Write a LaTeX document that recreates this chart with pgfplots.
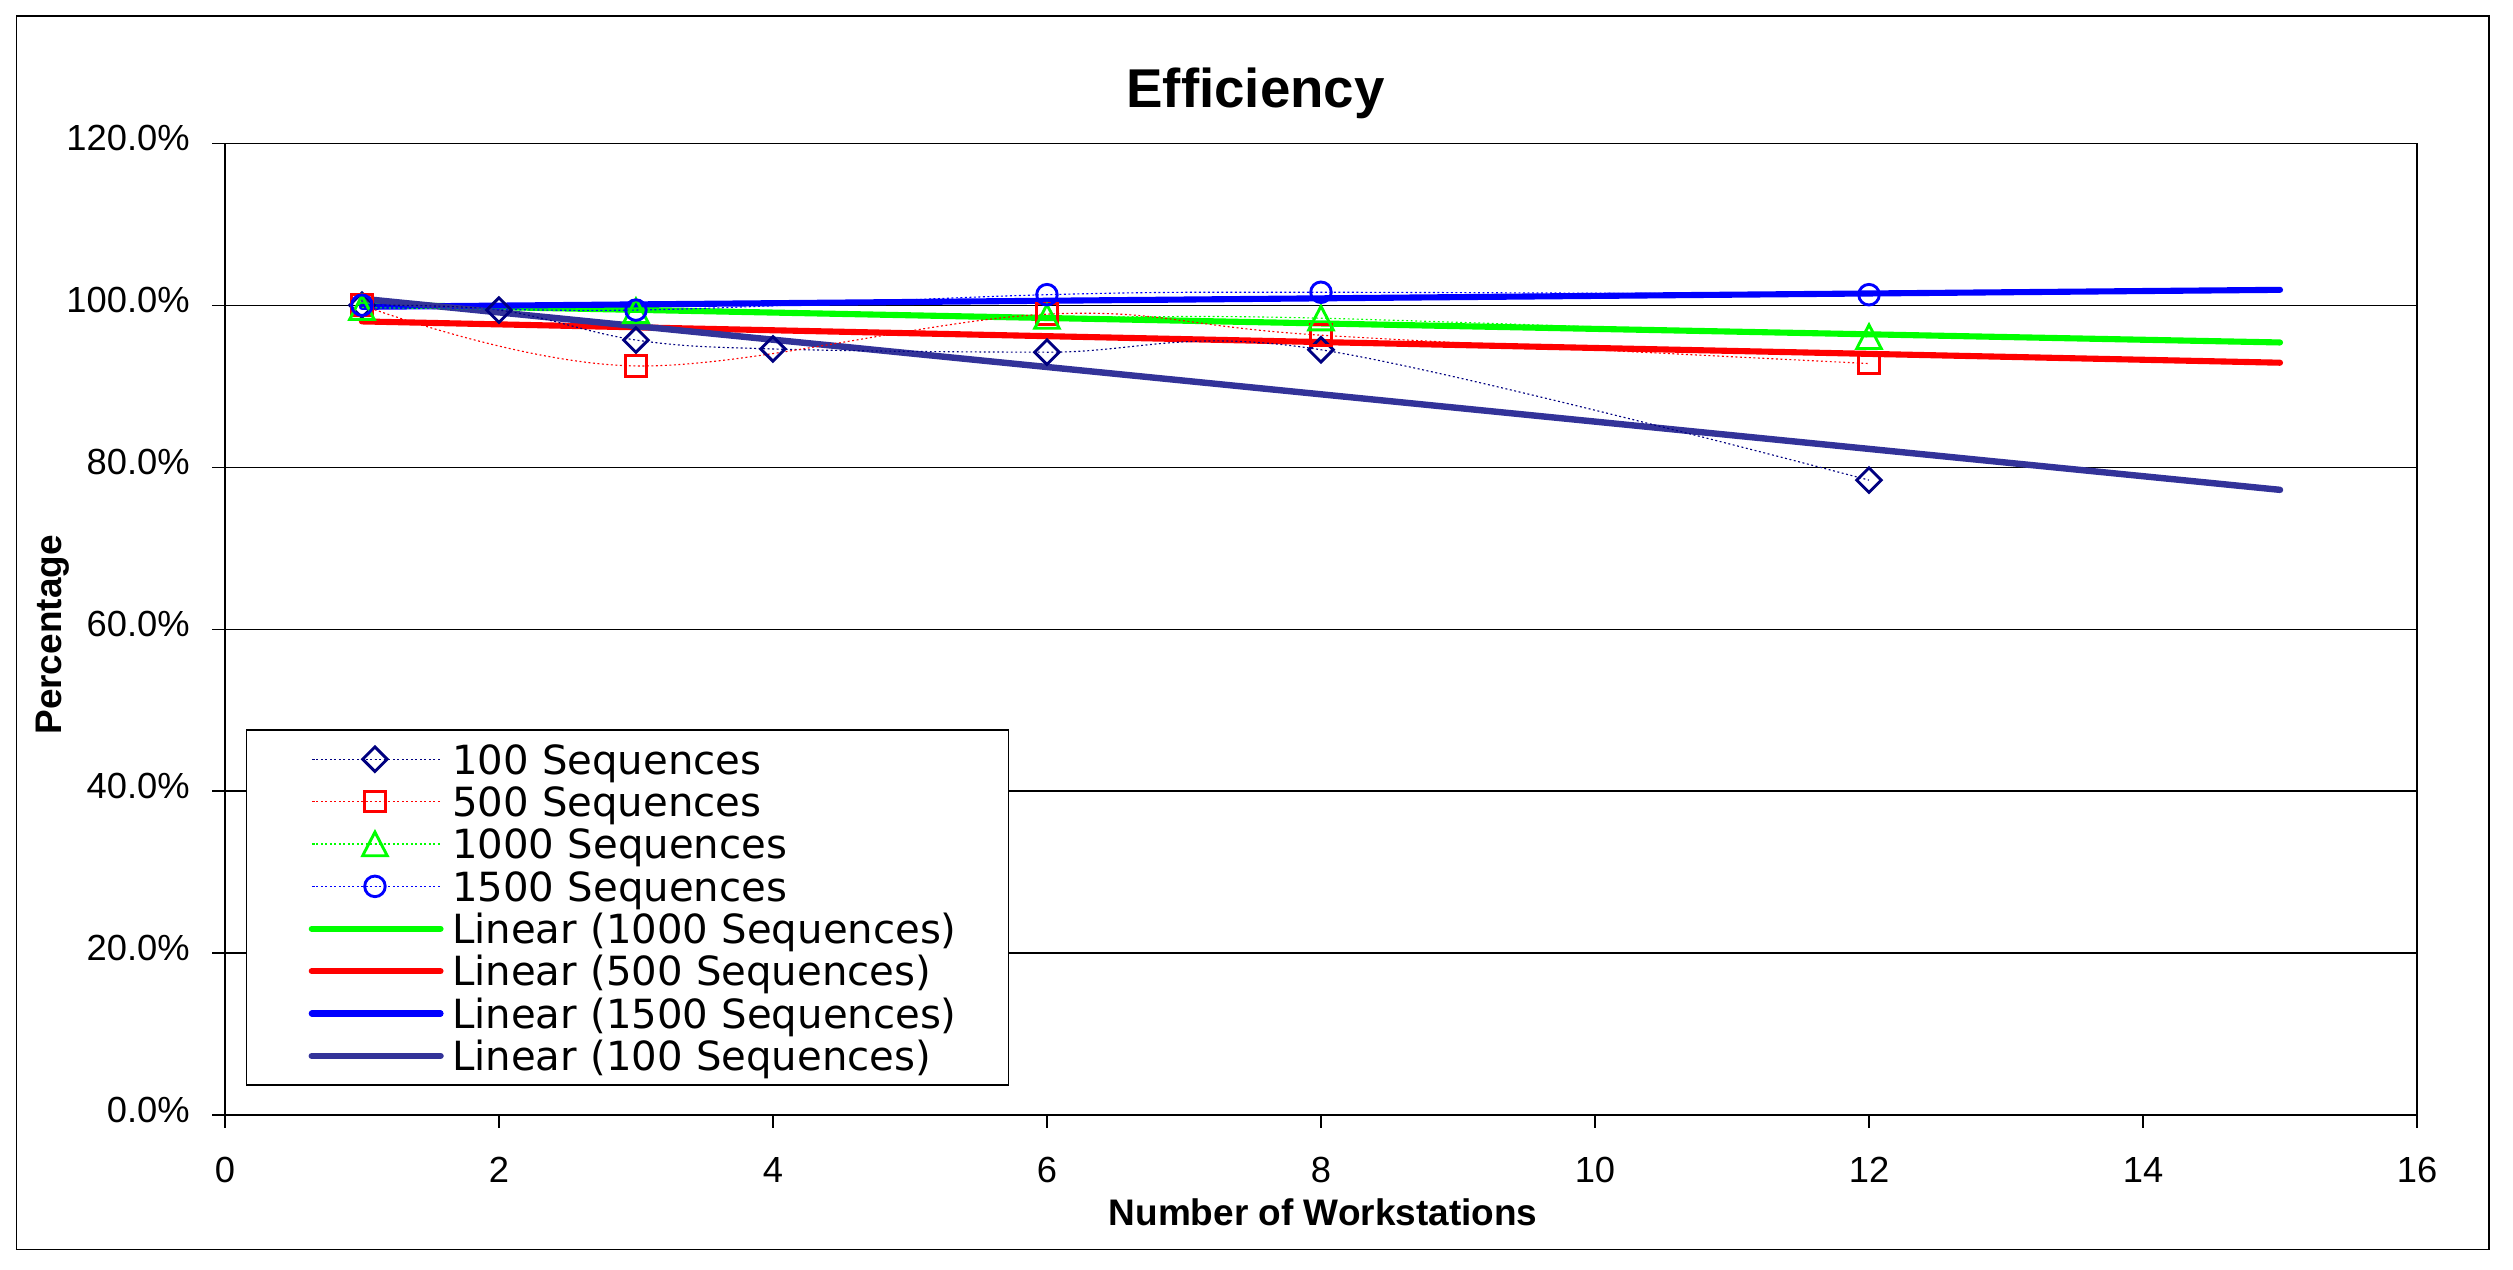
\documentclass[border=0pt]{standalone}
\usepackage{fontspec}
\setmainfont{Liberation Sans}
\newfontfamily\legendfont{DejaVu Sans}
\usepackage{pgfplots}
\pgfplotsset{compat=1.18}
\definecolor{navymark}{HTML}{000080}
\definecolor{navytrend}{HTML}{333399}
\definecolor{xlgreen}{HTML}{00FF00}
\definecolor{xlred}{HTML}{FF0000}
\definecolor{xlblue}{HTML}{0000FF}
\begin{document}
\begin{tikzpicture}
\path[use as bounding box] (-69.95pt,-47.9pt) rectangle (711.55pt,346.75pt);
\draw[line width=0.4pt] (-64.8pt,-41.75pt) rectangle (704.05pt,341.75pt);
\begin{axis}[
  at={(0pt,0pt)}, anchor=south west,
  scale only axis, width=681.7pt, height=302.2pt,
  xmin=0, xmax=16, ymin=0, ymax=120,
  xtick={0,2,...,16}, ytick={0,20,...,120},
  xtick pos=bottom, ytick pos=left,
  tick align=outside, major tick length=4pt,
  tick style={black, line width=0.4pt},
  axis line style={black, line width=0.4pt},
  ymajorgrids, major grid style={black, line width=0.4pt},
  /pgf/number format/assume math mode=true,
  tick label style={font=\fontsize{11.3}{13}\selectfont},
  yticklabel={\pgfmathprintnumber[fixed,fixed zerofill,precision=1]{\tick}\%},
  yticklabel style={anchor=base east, inner sep=0pt, xshift=-6.75pt, yshift=-2.25pt},
  xticklabel style={anchor=base, inner sep=0pt, yshift=-17.05pt},
  legend cell align=left,
  legend style={at={(axis description cs:0.00961,0.3969)}, anchor=north west,
    draw=black, inner xsep=0pt, inner ysep=2.5pt, row sep=0pt, column sep=0pt,
    font=\legendfont\fontsize{12.5}{14}\selectfont,
    nodes={inner sep=0pt, text height=11.19pt, text depth=1.99pt, text width=173pt, align=left}},
  legend image code/.code={%
    \draw[mark repeat=2,mark phase=2,#1] plot coordinates {(20.25pt,0pt) (39.9pt,0pt) (60.3pt,0pt)};
    \path[draw=none,fill=none] (0pt,-0.5pt) rectangle (63.9pt,0.5pt);},
]
% trendlines (drawn first, under the markers)
\addplot[xlgreen, line width=1.9pt, line cap=round, forget plot] coordinates {(1,100.1) (15,95.4)};
\addplot[xlred, line width=1.9pt, line cap=round, forget plot] coordinates {(1,98.0) (15,92.9)};
\addplot[xlblue, line width=1.9pt, line cap=round, forget plot] coordinates {(1,99.8) (15,101.9)};
\addplot[navytrend, line width=2pt, line cap=round, forget plot] coordinates {(1,100.8) (15,77.2)};
% data series
\addplot[navymark, line width=0.35pt, dash pattern=on 0.6pt off 0.8pt, smooth, tension=0.6,
  mark=square, mark size=2.7pt, mark options={rotate=45, solid, line width=0.9pt}]
  coordinates {(1,100.0) (2,99.4) (3,95.7) (4,94.6) (6,94.2) (8,94.5) (12,78.4)};
\addlegendentry{100 Sequences}
\addplot[xlred, line width=0.35pt, dash pattern=on 0.6pt off 0.8pt, smooth, tension=0.6,
  mark=square, mark size=3.2pt, mark options={solid, line width=0.9pt}]
  coordinates {(1,100.0) (3,92.5) (6,98.9) (8,96.3) (12,92.8)};
\addlegendentry{500 Sequences}
\addplot[xlgreen, line width=0.35pt, dash pattern=on 0.6pt off 0.8pt, smooth, tension=0.6,
  mark=triangle, mark size=4.9pt, mark options={solid, line width=0.9pt, xscale=0.9, yshift=-1.2pt}]
  coordinates {(1,99.7) (3,99.3) (6,98.6) (8,98.4) (12,96.1)};
\addlegendentry{1000 Sequences}
\addplot[xlblue, line width=0.35pt, dash pattern=on 0.6pt off 0.8pt, smooth, tension=0.6,
  mark=o, mark size=3.2pt, mark options={solid, line width=0.9pt}]
  coordinates {(1,100.0) (3,99.4) (6,101.3) (8,101.6) (12,101.3)};
\addlegendentry{1500 Sequences}
\addlegendimage{xlgreen, line width=1.9pt, line cap=round}
\addlegendentry{Linear (1000 Sequences)}
\addlegendimage{xlred, line width=1.9pt, line cap=round}
\addlegendentry{Linear (500 Sequences)}
\addlegendimage{xlblue, line width=1.9pt, line cap=round}
\addlegendentry{Linear (1500 Sequences)}
\addlegendimage{navytrend, line width=2pt, line cap=round}
\addlegendentry{Linear (100 Sequences)}
\end{axis}
\node[anchor=base, font=\bfseries\fontsize{17}{20}\selectfont] at (320.5pt,313.35pt) {Efficiency};
\node[anchor=base, font=\bfseries\fontsize{11.5}{13}\selectfont] at (341.5pt,-34.2pt) {Number of Workstations};
\node[rotate=90, anchor=base, font=\bfseries\fontsize{11.5}{13}\selectfont] at (-50.8pt,149.3pt) {Percentage};
\end{tikzpicture}
\end{document}
